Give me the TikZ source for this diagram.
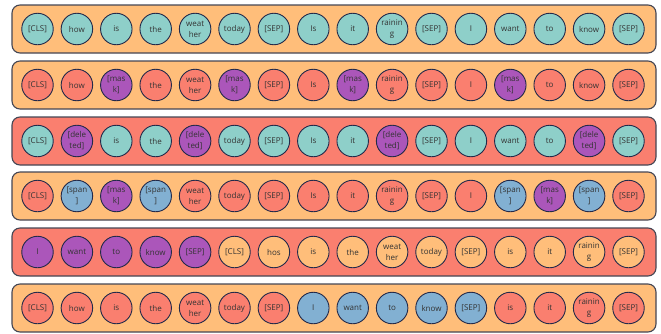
\documentclass[tikz,border=0pt]{standalone}
\usepackage{fontspec}
\setmainfont{Open Sans}
\definecolor{bgor}{HTML}{FFBE7A}
\definecolor{bgrd}{HTML}{FA7F6F}
\definecolor{tl}{HTML}{8ECFC9}
\definecolor{rd}{HTML}{FA7F6F}
\definecolor{or}{HTML}{FFBE7A}
\definecolor{bl}{HTML}{82B0D2}
\definecolor{pu}{HTML}{AB56BA}
\definecolor{edge}{HTML}{232A4A}
\definecolor{boxedge}{HTML}{444654}
\definecolor{txt}{HTML}{333333}
\tikzset{
  tok/.style={circle, draw=edge, line width=0.9pt, minimum size=31.5pt, inner sep=0pt,
    align=center, text=txt, font=\fontsize{8}{11}\selectfont},
  rowbox/.style={draw=boxedge, line width=1.1pt, rounded corners=8pt,
    minimum width=644pt, minimum height=48pt, inner sep=0pt}
}
\newcommand\tokrow[3]{%
  \foreach \c/\t [count=\i from 0] in {#3} {
    \node[tok, fill=\c] (r#1c\i) at ({37.5+39.4*\i}, #2) {\t};
  }%
}
\begin{document}
\begin{tikzpicture}[x=1pt,y=-1pt]
\useasboundingbox (0,0) rectangle (661,333);
% row boxes
\node[rowbox, fill=bgor] (box1) at (334,29) {};
\node[rowbox, fill=bgor] (box2) at (334,85) {};
\node[rowbox, fill=bgrd] (box3) at (334,141) {};
\node[rowbox, fill=bgor] (box4) at (334,196) {};
\node[rowbox, fill=bgrd] (box5) at (334,252) {};
\node[rowbox, fill=bgor] (box6) at (334,308) {};
% rows
\tokrow{1}{29}{tl/{[CLS]}, tl/how, tl/is, tl/the, tl/{weat\\her}, tl/today, tl/{[SEP]}, tl/Is, tl/it, tl/{rainin\\g}, tl/{[SEP]}, tl/I, tl/want, tl/to, tl/know, tl/{[SEP]}}
\tokrow{2}{85}{rd/{[CLS]}, rd/how, pu/{[mas\\k]}, rd/the, rd/{weat\\her}, pu/{[mas\\k]}, rd/{[SEP]}, rd/Is, pu/{[mas\\k]}, rd/{rainin\\g}, rd/{[SEP]}, rd/I, pu/{[mas\\k]}, rd/to, rd/know, rd/{[SEP]}}
\tokrow{3}{141}{tl/{[CLS]}, pu/{[dele\\ted]}, tl/is, tl/the, pu/{[dele\\ted]}, tl/today, tl/{[SEP]}, tl/Is, tl/it, pu/{[dele\\ted]}, tl/{[SEP]}, tl/I, tl/want, tl/to, pu/{[dele\\ted]}, tl/{[SEP]}}
\tokrow{4}{196}{rd/{[CLS]}, bl/{[span\\]}, pu/{[mas\\k]}, bl/{[span\\]}, rd/{weat\\her}, rd/today, rd/{[SEP]}, rd/Is, rd/it, rd/{rainin\\g}, rd/{[SEP]}, rd/I, bl/{[span\\]}, pu/{[mas\\k]}, bl/{[span\\]}, rd/{[SEP]}}
\tokrow{5}{252}{pu/I, pu/want, pu/to, pu/know, pu/{[SEP]}, or/{[CLS]}, or/hos, or/is, or/the, or/{weat\\her}, or/today, or/{[SEP]}, or/is, or/it, or/{rainin\\g}, or/{[SEP]}}
\tokrow{6}{308}{rd/{[CLS]}, rd/how, rd/is, rd/the, rd/{weat\\her}, rd/today, rd/{[SEP]}, bl/I, bl/want, bl/to, bl/know, bl/{[SEP]}, rd/is, rd/it, rd/{rainin\\g}, rd/{[SEP]}}
\end{tikzpicture}
\end{document}
